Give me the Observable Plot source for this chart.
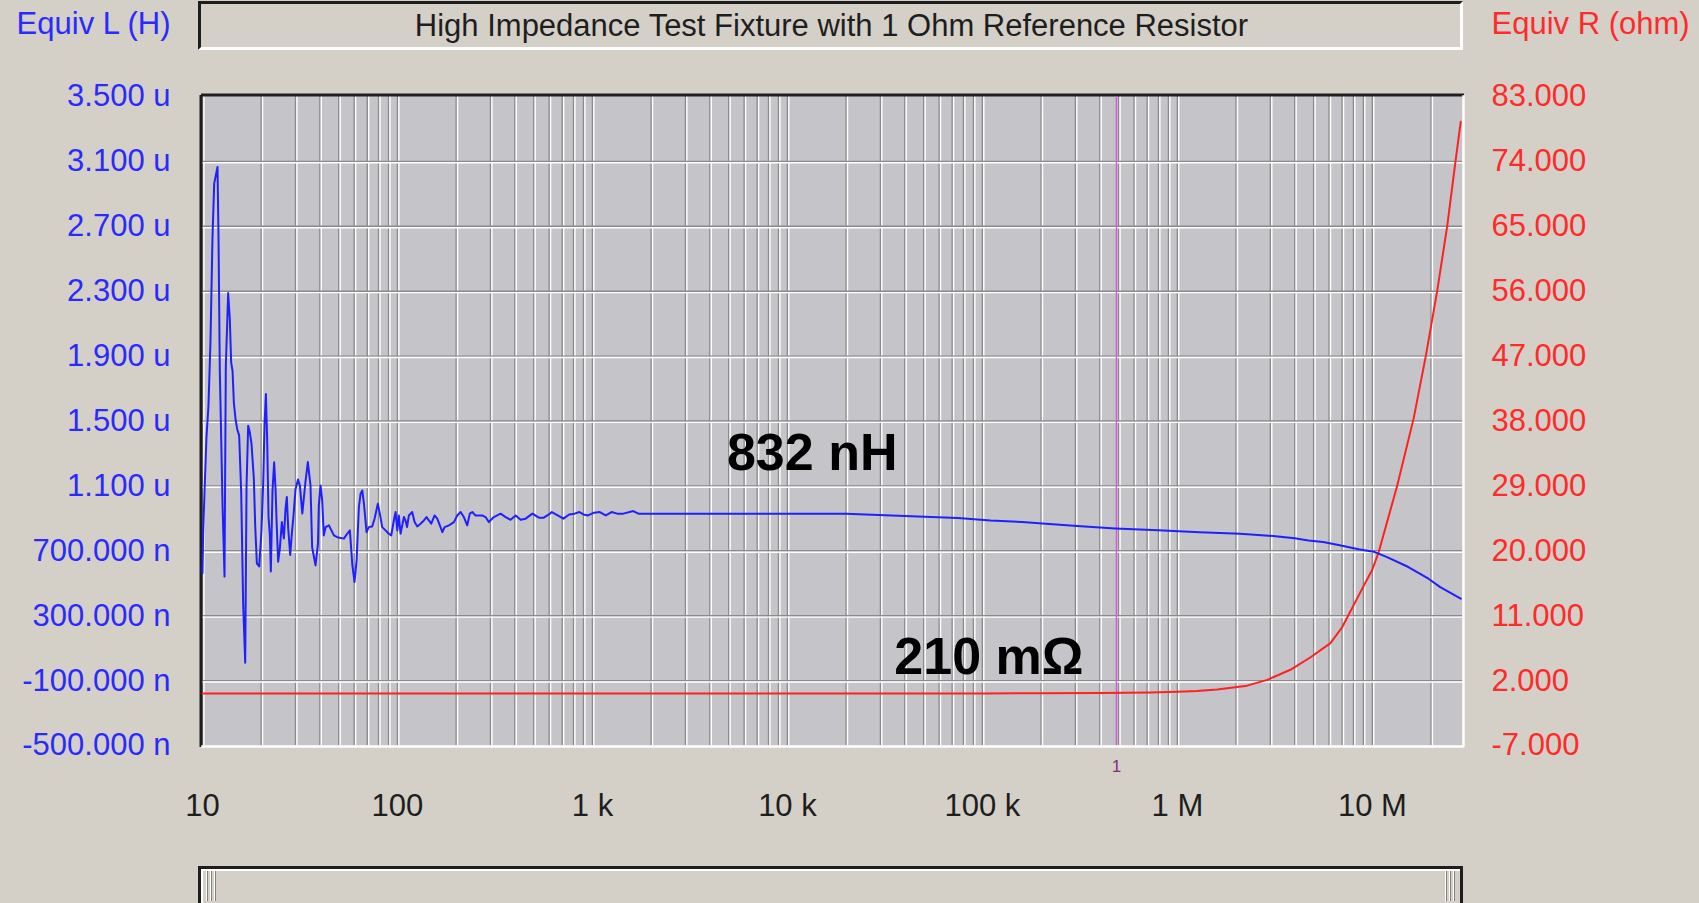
<!DOCTYPE html>
<html>
<head>
<meta charset="utf-8">
<script src="https://cdn.jsdelivr.net/npm/d3@7"></script>
<script src="https://cdn.jsdelivr.net/npm/@observablehq/plot@0.6"></script>
<style>
  html, body { margin: 0; padding: 0; background: #d4d0c8; overflow: hidden; }
  #wrap { position: relative; width: 1699px; height: 903px; font-family: "Liberation Sans", Arial, sans-serif; }
  #chart { position: absolute; left: 0; top: 0; }
  #titlebox { position: absolute; left: 198px; top: 1px; width: 1265px; height: 49px; box-sizing: border-box;
    border-top: 3px solid #1e1e1e; border-left: 3px solid #1e1e1e; border-right: 3px solid #ffffff; border-bottom: 3px solid #ffffff;
    background: #d4d0c8; display: flex; align-items: center; justify-content: center; font-size: 31px; color: #1e1e1e; padding-left: 2px; }
  #scroll { position: absolute; left: 198px; top: 866px; width: 1265px; height: 40px; box-sizing: border-box;
    border-top: 3px solid #1e1e1e; border-left: 3px solid #1e1e1e; border-right: 3px solid #1e1e1e; background: #d4d0c8; }
  #scroll .inner { position: absolute; left: 0; top: 0; right: 0; bottom: 0; border-top: 2px solid #fff; border-left: 2px solid #fff; }
  .thumb { position: absolute; top: 2px; width: 12px; height: 30px;
    background: repeating-linear-gradient(90deg, #ffffff 0 1px, #808080 1px 2px, #d4d0c8 2px 4px); }
</style>
</head>
<body>
<div id="wrap">
  <div id="chart"></div>
  <div id="titlebox">High Impedance Test Fixture with 1 Ohm Reference Resistor</div>
  <div id="scroll"><div class="inner"></div><div class="thumb" style="left:5px"></div><div class="thumb" style="right:3px"></div></div>
</div>
<script>
// ---------- data ----------
// Equivalent inductance (µH) vs frequency (Hz)
const blueFreq = [10,10.08,10.28,10.48,10.73,10.99,11.25,11.48,11.7,11.94,12.08,12.27,12.67,12.97,13.17,13.54,13.81,14.03,14.26,14.48,14.77,15.06,15.42,15.79,16.17,16.56,16.82,17.15,17.49,17.84,18.34,18.63,19.0,19.53,20.08,20.48,20.81,21.14,21.47,21.81,22.15,22.41,22.86,23.31,23.69,24.06,24.44,24.93,25.53,26.14,26.66,27.08,27.52,28.17,28.73,29.3,30.0,30.9,31.6,32.5,33.8,34.7,35.8,36.5,38.0,39.1,39.5,40.3,41.1,41.9,42.8,44.5,47.2,49.1,53.1,55.2,57.0,58.6,60.2,61.7,63.4,64.7,66.0,67.3,69.4,71.3,74.2,76.3,79.3,81.2,83.5,86.9,90.3,92.9,95.8,97.8,99.8,101.6,103.7,107.9,110,112,114.4,119,122.4,126.4,131.4,136.6,141,144.9,149,155,160,170,174.5,183.7,194.7,202.6,210.8,219,228,235,242,251,272,283,294,312,338,359,380,404,428,454,492,531,563,598,619,660,710,760,810,857,900,950,1020,1090,1170,1254,1340,1440,1620,1720,20000,40000,75000,110000,160000,220000,320000,480000,800000,1.3e6,2.1e6,3.1e6,4.0e6,4.7e6,5.6e6,6.9e6,8.5e6,10.3e6,11.9e6,15.3e6,19.4e6,22.3e6,28.4e6];
const blueL = [0.562,0.817,1.124,1.4,1.594,1.993,2.626,2.963,3.014,3.066,2.636,1.808,0.981,0.541,1.839,2.289,2.125,1.86,1.808,1.614,1.512,1.451,1.41,1.062,0.368,0.01,1.093,1.471,1.43,1.359,1.144,0.858,0.623,0.603,0.827,1.124,1.482,1.666,1.379,0.909,0.797,0.572,1.073,1.246,1.083,0.838,0.633,0.715,0.878,0.776,0.96,1.032,0.838,0.674,0.807,0.92,1.08,1.14,1.1,0.93,1.134,1.247,1.103,0.722,0.61,0.744,0.98,1.103,1.011,0.795,0.846,0.857,0.795,0.784,0.775,0.805,0.826,0.62,0.507,0.641,0.969,1.052,1.072,0.99,0.815,0.846,0.85,0.898,0.99,0.929,0.846,0.826,0.805,0.795,0.887,0.939,0.826,0.918,0.805,0.908,0.887,0.846,0.918,0.939,0.877,0.85,0.867,0.887,0.908,0.887,0.867,0.918,0.898,0.815,0.846,0.857,0.877,0.918,0.939,0.908,0.857,0.929,0.939,0.918,0.918,0.908,0.877,0.908,0.929,0.908,0.891,0.918,0.891,0.898,0.929,0.904,0.904,0.924,0.939,0.92,0.898,0.924,0.929,0.939,0.924,0.918,0.935,0.939,0.918,0.939,0.929,0.929,0.945,0.929,0.929,0.914,0.902,0.887,0.877,0.865,0.852,0.838,0.826,0.814,0.805,0.791,0.778,0.764,0.754,0.733,0.709,0.692,0.661,0.6,0.528,0.476,0.405];

// Equivalent resistance (ohm) vs frequency (Hz)
const redFreq = [10,1e4,1e5,2e5,4e5,7.3e5,1e6,1.26e6,1.6e6,2.28e6,2.89e6,3.8e6,4.8e6,6.1e6,7.0e6,8.7e6,1.0e7,1.08e7,1.34e7,1.63e7,1.88e7,2.15e7,2.42e7,2.67e7,2.84e7];
const redR = [0.21,0.21,0.22,0.24,0.27,0.35,0.45,0.55,0.75,1.3,2.1,3.5,5.2,7.2,9.4,14.3,17.4,19.9,29,38.4,47,56,65,74,79.5];

// Axis ticks
const xTicks = [10, 100, 1e3, 1e4, 1e5, 1e6, 1e7];
const xTickLabels = ["10", "100", "1 k", "10 k", "100 k", "1 M", "10 M"];
const yTicksL = [3.5, 3.1, 2.7, 2.3, 1.9, 1.5, 1.1, 0.7, 0.3, -0.1, -0.5];
const yLabelsL = ["3.500 u", "3.100 u", "2.700 u", "2.300 u", "1.900 u", "1.500 u", "1.100 u", "700.000 n", "300.000 n", "-100.000 n", "-500.000 n"];
const yTicksR = [83, 74, 65, 56, 47, 38, 29, 20, 11, 2, -7];
const yLabelsR = ["83.000", "74.000", "65.000", "56.000", "47.000", "38.000", "29.000", "20.000", "11.000", "2.000", "-7.000"];

// Cursor & annotations
const cursorFreq = 4.87e5;
const cursorLabel = "1";
const annoL = [{ f: 1.34e4, v: 1.30, text: "832 nH" }];
const annoR = [{ f: 1.08e5, v: 5.2, text: "210 mΩ" }];

// ---------- helpers ----------
const rToL = r => -0.5 + (r + 7) * 4 / 90;   // map right axis (ohm) onto left scale (µH)
const blue = blueFreq.map((f, i) => ({ f, v: blueL[i] }));
const red = redFreq.map((f, i) => ({ f, v: redR[i] }));
const vGrid = [];
for (let k = 1; k <= 7; k++) for (let m = 1; m <= 9; m++) { const g = m * 10 ** k; if (g < 2.9e7) vGrid.push(g); }
const hGrid = yTicksL.slice(1, -1);

const BLUE = "#2020ff", RED = "#ff2020";

const chart = Plot.plot({
  width: 1699, height: 903,
  marginLeft: 202, marginRight: 237, marginTop: 96, marginBottom: 158,
  style: { background: "#d4d0c8", fontFamily: "'Liberation Sans', Arial, sans-serif", overflow: "visible" },
  x: { type: "log", domain: [10, 2.9e7], axis: null },
  y: { domain: [-0.5, 3.5], axis: null },
  marks: [
    Plot.frame({ fill: "#c5c4c9", stroke: null }),
    Plot.ruleX(vGrid, { stroke: "#8a8a8a", strokeWidth: 1.4 }),
    Plot.ruleX(vGrid, { stroke: "#ffffff", strokeWidth: 1.4, dx: 1.4 }),
    Plot.ruleY(hGrid, { stroke: "#8a8a8a", strokeWidth: 1.4 }),
    Plot.ruleY(hGrid, { stroke: "#ffffff", strokeWidth: 1.4, dy: 1.4 }),
    Plot.frame({ anchor: "top", stroke: "#1e1e1e", strokeWidth: 3, dy: -1.5 }),
    Plot.frame({ anchor: "left", stroke: "#1e1e1e", strokeWidth: 3, dx: -1.5 }),
    Plot.frame({ anchor: "bottom", stroke: "#ffffff", strokeWidth: 2.5, dy: 1 }),
    Plot.frame({ anchor: "right", stroke: "#ffffff", strokeWidth: 2.5, dx: 1 }),
    Plot.ruleX([cursorFreq], { stroke: "#d45ed4", strokeWidth: 1.5 }),
    Plot.line(red, { x: "f", y: d => rToL(d.v), stroke: RED, strokeWidth: 2 }),
    Plot.line(blue, { x: "f", y: "v", stroke: BLUE, strokeWidth: 2 }),
    Plot.text(annoL, { x: "f", y: "v", text: "text", fontSize: 52, fontWeight: "bold", fill: "#000" }),
    Plot.text(annoR, { x: "f", y: d => rToL(d.v), text: "text", fontSize: 52, fontWeight: "bold", fill: "#000" }),
    Plot.text([cursorLabel], { x: () => cursorFreq, text: d => d, frameAnchor: "bottom", lineAnchor: "middle", dy: 21, fontSize: 17, fill: "#8a2a8a" }),
    Plot.axisY({ anchor: "left", ticks: yTicksL, tickFormat: d => yLabelsL[yTicksL.indexOf(d)], tickSize: 0, tickPadding: 32, fontSize: 31, fill: "#2a2aff", label: null }),
    Plot.axisY({ anchor: "right", ticks: yTicksL, tickFormat: d => yLabelsR[yTicksL.indexOf(d)], tickSize: 0, tickPadding: 29, fontSize: 31, fill: "#ff2a2a", label: null }),
    Plot.axisX({ anchor: "bottom", ticks: xTicks, tickFormat: d => xTickLabels[xTicks.indexOf(d)], tickSize: 0, tickPadding: 48, fontSize: 31, fill: "#1e1e1e", label: null }),
    Plot.text(["Equiv L (H)"], { text: d => d, frameAnchor: "top-left", lineAnchor: "middle", dx: -32, dy: -72, textAnchor: "end", fontSize: 31, fill: "#2a2aff" }),
    Plot.text(["Equiv R (ohm)"], { text: d => d, frameAnchor: "top-right", lineAnchor: "middle", dx: 29, dy: -72, textAnchor: "start", fontSize: 31, fill: "#ff2a2a" })
  ]
});
document.getElementById("chart").appendChild(chart);
</script>
</body>
</html>
